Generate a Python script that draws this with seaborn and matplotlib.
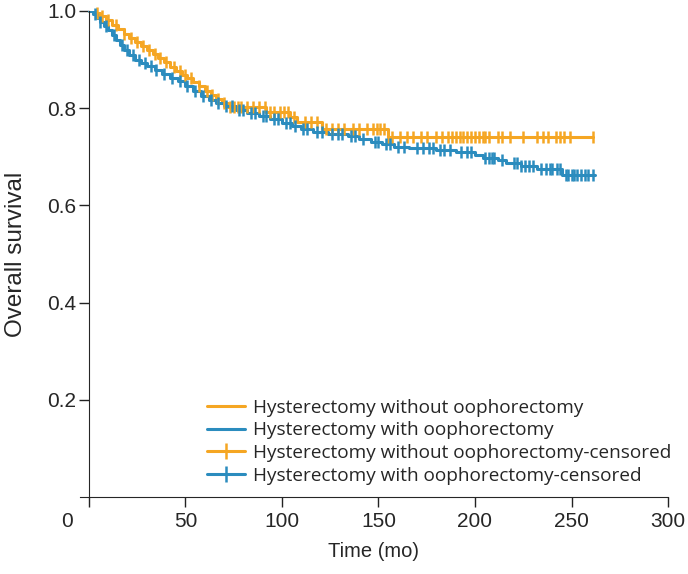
import numpy as np
import pandas as pd
import matplotlib
matplotlib.use('Agg')
import matplotlib.pyplot as plt
import matplotlib.transforms as mtransforms
from matplotlib.lines import Line2D
import seaborn as sns

# Kaplan-Meier step points (time in months, survival)
wo_time = [0, 3, 6, 9, 12, 15, 18, 21, 24, 27, 30, 33, 36, 39, 42, 45, 48, 51, 54, 57,
           60, 63, 66, 69, 72, 92, 104, 108, 121, 155, 261]
wo_surv = [1.0, 0.995, 0.99, 0.982, 0.972, 0.962, 0.952, 0.944, 0.936, 0.928, 0.92, 0.912,
           0.903, 0.894, 0.885, 0.876, 0.868, 0.861, 0.853, 0.845, 0.836, 0.827, 0.818,
           0.81, 0.802, 0.793, 0.782, 0.771, 0.757, 0.740, 0.740]

w_time = [0, 2, 4, 6, 8, 10, 12, 14, 16, 18, 21, 24, 27, 30, 34, 38, 42, 46, 50, 54, 58,
          62, 66, 70, 76, 82, 88, 94, 100, 105, 110, 116, 124, 134, 140, 146, 152, 158,
          166, 180, 190, 200, 204, 212, 216, 224, 232, 245, 262]
w_surv = [1.0, 0.993, 0.985, 0.977, 0.969, 0.96, 0.95, 0.94, 0.93, 0.92, 0.91, 0.9, 0.893,
          0.886, 0.878, 0.87, 0.863, 0.855, 0.846, 0.836, 0.825, 0.816, 0.81, 0.804, 0.797,
          0.79, 0.784, 0.777, 0.77, 0.763, 0.757, 0.751, 0.746, 0.742, 0.737, 0.731, 0.726,
          0.721, 0.718, 0.714, 0.709, 0.704, 0.698, 0.693, 0.687, 0.680, 0.675, 0.662, 0.662]

# censoring times
wo_cens = [4, 7, 10, 14, 18, 22, 25, 28, 31, 34, 37, 40, 44, 47, 50, 53, 57, 61, 64, 67,
           70, 73, 75, 77, 79, 82, 85, 88, 91, 94, 96, 99, 101, 103, 106, 112, 115, 118,
           123, 126, 129, 132, 137, 140, 144, 147, 149, 151, 153, 155, 157, 161, 165, 168,
           172, 175, 180, 183, 186, 188, 190, 192, 194, 196, 198, 200, 202, 204, 205, 207,
           212, 214, 218, 225, 232, 235, 238, 242, 244, 246, 249, 261]
w_cens = [3, 6, 9, 13, 17, 20, 23, 26, 29, 32, 35, 39, 43, 47, 51, 55, 59, 63, 67, 71, 74,
          78, 80, 84, 86, 90, 92, 96, 98, 102, 104, 107, 111, 113, 118, 121, 126, 129, 131,
          136, 138, 142, 148, 150, 154, 156, 160, 163, 170, 173, 176, 178, 182, 184, 187,
          193, 196, 198, 205, 207, 209, 210, 214, 220, 222, 224, 226, 228, 230, 234, 237,
          239, 240, 242.5, 244, 247, 248, 250, 251.5, 253, 255, 257, 258.5, 261]

labels = ['Hysterectomy without oophorectomy', 'Hysterectomy with oophorectomy']
colors = ['#F5A623', '#2B8CBE']


def surv_at(times, surv, t):
    idx = np.searchsorted(times, t, side='right') - 1
    return np.array(surv)[idx]


curves = pd.concat([
    pd.DataFrame({'time': wo_time, 'surv': wo_surv, 'group': labels[0]}),
    pd.DataFrame({'time': w_time, 'surv': w_surv, 'group': labels[1]}),
])
cens = pd.concat([
    pd.DataFrame({'time': wo_cens, 'surv': surv_at(wo_time, wo_surv, wo_cens), 'group': labels[0]}),
    pd.DataFrame({'time': w_cens, 'surv': surv_at(w_time, w_surv, w_cens), 'group': labels[1]}),
])

sns.set_style('ticks')
plt.rcParams['font.family'] = ['Liberation Sans', 'DejaVu Sans']

fig, ax = plt.subplots(figsize=(6.88, 5.74), dpi=100)
fig.subplots_adjust(left=0.116, right=0.971, bottom=0.134, top=0.981)

pal = dict(zip(labels, colors))
sns.lineplot(data=curves, x='time', y='surv', hue='group', palette=pal, estimator=None,
             sort=False, drawstyle='steps-post', linewidth=2.2, legend=False, ax=ax)
for g in labels:
    sub = cens[cens['group'] == g]
    ax.plot(sub['time'], sub['surv'], linestyle='none', marker='|', markersize=8.5,
            markeredgewidth=1.8, color=pal[g], clip_on=False)

ax.set_xlim(-4.7, 300)
ax.set_ylim(0, 1.0)
ax.set_xticks([0, 50, 100, 150, 200, 250, 300])
ax.set_yticks([0.2, 0.4, 0.6, 0.8, 1.0])
ax.set_yticklabels(['0.2', '0.4', '0.6', '0.8', '1.0'])
ax.spines['left'].set_position(('data', 0))
ax.spines['top'].set_visible(False)
ax.spines['right'].set_visible(False)
ax.tick_params(axis='both', labelsize=15, length=7, width=1, color='#222222')
ax.tick_params(axis='y', pad=2)
ax.xaxis.get_majorticklabels()[0].set_transform(
    ax.xaxis.get_majorticklabels()[0].get_transform()
    + mtransforms.ScaledTranslation(-0.22, 0, fig.dpi_scale_trans))

ax.set_xlabel('Time (mo)', fontsize=14.5, labelpad=8)
ax.set_ylabel('Overall survival', fontsize=17.5)
ax.yaxis.set_label_coords(-0.09, 0.5)

handles = [
    Line2D([], [], color=colors[0], lw=2.2),
    Line2D([], [], color=colors[1], lw=2.2),
    Line2D([], [], color=colors[0], lw=2.2, marker='|', markersize=11, markeredgewidth=1.8),
    Line2D([], [], color=colors[1], lw=2.2, marker='|', markersize=11, markeredgewidth=1.8),
]
leg_labels = labels + [labels[0] + '-censored', labels[1] + '-censored']
ax.legend(handles, leg_labels, loc='upper left', bbox_to_anchor=(0.301, 0.305),
          bbox_transform=fig.transFigure, frameon=False,
          prop={'family': 'Open Sans', 'size': 13.7},
          handlelength=2.0, handletextpad=0.42, labelspacing=0.24, borderpad=0,
          borderaxespad=0)

fig.savefig('out.png', dpi=100)
